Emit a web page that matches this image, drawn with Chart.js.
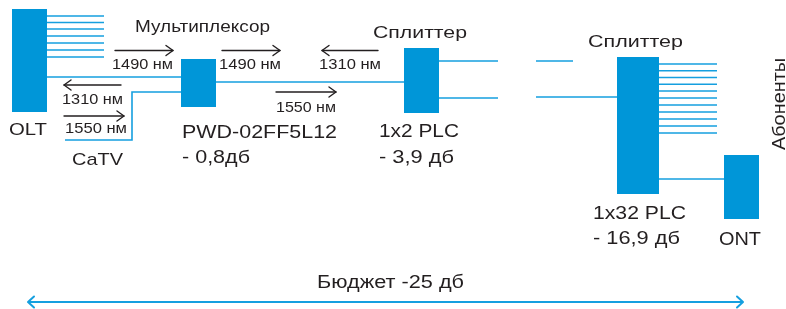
<!DOCTYPE html>
<html><head><meta charset="utf-8">
<script src="https://cdn.jsdelivr.net/npm/chart.js@4/dist/chart.umd.min.js"></script>
<style>html,body{margin:0;padding:0;background:#fff;}#wrap{width:786px;height:309px;}</style>
</head><body><div id="wrap"><canvas id="c" width="786" height="309"></canvas></div>
<script>
// Blocks: [name, x1, y1, x2, y2]
const boxes = [
  ['OLT', 12, 9, 47, 112],
  ['PWD', 181, 59, 216, 107],
  ['1x2', 404, 48, 439, 113],
  ['1x32', 617, 57, 659, 194],
  ['ONT', 724, 155, 759, 219]
];
// Fiber polylines
const fibers = [
  [[47,77],[181,77]],
  [[65,140],[132,140],[132,92],[181,92]],
  [[216,82],[404,82]],
  [[439,61],[498,61]],
  [[439,98],[498,98]],
  [[536,61],[573,61]],
  [[536,97],[617,97]],
  [[659,179],[724,179]]
];
const oltFanY = [16, 22.5, 29, 36, 43, 50, 57];
const oltFanX = [47, 104];
const splitFanY = [64, 70.8, 77.5, 84.3, 91, 98, 105, 112, 119, 126, 133];
const splitFanX = [659, 717];
// Wavelength arrows: [x1, x2, y, direction]
const waveArrows = [
  [115, 173, 50.5, 1],
  [64, 121, 85, -1],
  [64, 124, 116, 1],
  [222, 280, 50.5, 1],
  [322, 378, 50.5, -1],
  [276, 336, 92, 1]
];
// Labels: [text, left, right, centerY, fontSize]
const labels = [
  ['Мультиплексор', 135, 270, 25.5, 17],
  ['1490 нм', 112, 173, 64, 14],
  ['1310 нм', 62, 123, 99, 14],
  ['1550 нм', 65, 127, 128, 14],
  ['1490 нм', 219, 281, 64, 14],
  ['1310 нм', 319, 381, 64, 14],
  ['1550 нм', 276, 336, 107, 14],
  ['OLT', 9, 47, 129, 17],
  ['CaTV', 72, 123, 159, 17],
  ['Сплиттер', 373, 467, 32, 17],
  ['PWD-02FF5L12', 182, 337, 132, 17.5],
  ['- 0,8дб', 182, 250, 157, 17.5],
  ['1x2 PLC', 379, 459, 131, 17.5],
  ['- 3,9 дб', 379, 454, 157, 17.5],
  ['Сплиттер', 588, 683, 41, 17],
  ['1x32 PLC', 593, 686, 213, 17.5],
  ['- 16,9 дб', 593, 680, 238, 17.5],
  ['ONT', 719, 761, 239, 17.5],
  ['Бюджет -25 дб', 317, 464, 282, 18]
];
// Rotated label: [text, bottom, top, centerX, fontSize]
const vLabels = [['Абоненты', 150, 58, 779, 17.5]];
// Budget arrow: [x1, x2, y]
const budget = [28, 743, 302];

const BLUE = '#0096d8';
const FIBER = '#159fdf';
const TEXT = '#231f20';
const FONT = '"Liberation Sans", Arial, sans-serif';

const datasets = [];
function addLine(pts){
  datasets.push({data: pts.map(p=>({x:p[0], y:p[1]})), showLine:true, borderColor:FIBER, borderWidth:1.6, pointRadius:0, fill:false, tension:0});
}
fibers.forEach(addLine);
oltFanY.forEach(y=>addLine([[oltFanX[0],y],[oltFanX[1],y]]));
splitFanY.forEach(y=>addLine([[splitFanX[0],y],[splitFanX[1],y]]));
addLine([[budget[0],budget[2]],[budget[1],budget[2]]]);
datasets[datasets.length-1].borderWidth = 2;

const drawPlugin = {
  id: 'diagram',
  beforeDatasetsDraw(chart){
    const {ctx, scales:{x, y}} = chart;
    ctx.save();
    ctx.fillStyle = BLUE;
    boxes.forEach(b=>{
      const px1 = x.getPixelForValue(b[1]), py1 = y.getPixelForValue(b[2]);
      const px2 = x.getPixelForValue(b[3]), py2 = y.getPixelForValue(b[4]);
      ctx.fillRect(px1, py1, px2-px1, py2-py1);
    });
    ctx.restore();
  },
  afterDatasetsDraw(chart){
    const {ctx, scales:{x, y}} = chart;
    ctx.save();
    // wave arrows
    ctx.strokeStyle = TEXT; ctx.lineWidth = 1.4; ctx.lineCap='round'; ctx.lineJoin='round';
    waveArrows.forEach(a=>{
      const x1 = x.getPixelForValue(a[0]), x2 = x.getPixelForValue(a[1]), py = y.getPixelForValue(a[2]);
      ctx.beginPath(); ctx.moveTo(x1, py); ctx.lineTo(x2, py); ctx.stroke();
      const tip = a[3] > 0 ? x2 : x1, d = a[3] > 0 ? -1 : 1;
      ctx.beginPath(); ctx.moveTo(tip + d*7, py-5); ctx.lineTo(tip, py); ctx.lineTo(tip + d*7, py+5); ctx.stroke();
    });
    // budget arrow heads
    ctx.strokeStyle = FIBER; ctx.lineWidth = 2;
    const bx1 = x.getPixelForValue(budget[0]), bx2 = x.getPixelForValue(budget[1]), by = y.getPixelForValue(budget[2]);
    ctx.beginPath(); ctx.moveTo(bx1+6, by-5.5); ctx.lineTo(bx1, by); ctx.lineTo(bx1+6, by+5.5); ctx.stroke();
    ctx.beginPath(); ctx.moveTo(bx2-6, by-5.5); ctx.lineTo(bx2, by); ctx.lineTo(bx2-6, by+5.5); ctx.stroke();
    // labels
    ctx.fillStyle = TEXT; ctx.textBaseline = 'alphabetic'; ctx.textAlign = 'left';
    labels.forEach(l=>{
      ctx.font = l[4] + 'px ' + FONT;
      const px1 = x.getPixelForValue(l[1]), px2 = x.getPixelForValue(l[2]), pyc = y.getPixelForValue(l[3]);
      const w = ctx.measureText(l[0]).width;
      const sx = (px2 - px1) / w;
      ctx.save();
      ctx.translate(px1, pyc + l[4]*0.36);
      ctx.scale(sx, 1);
      ctx.fillText(l[0], 0, 0);
      ctx.restore();
    });
    vLabels.forEach(l=>{
      ctx.font = l[4] + 'px ' + FONT;
      const pb = y.getPixelForValue(l[1]), pt = y.getPixelForValue(l[2]), pxc = x.getPixelForValue(l[3]);
      const w = ctx.measureText(l[0]).width;
      const sx = (pb - pt) / w;
      ctx.save();
      ctx.translate(pxc + l[4]*0.36, pb);
      ctx.rotate(-Math.PI/2);
      ctx.scale(sx, 1);
      ctx.fillText(l[0], 0, 0);
      ctx.restore();
    });
    ctx.restore();
  }
};

new Chart(document.getElementById('c'), {
  type: 'scatter',
  data: {datasets},
  options: {
    responsive: false, animation: false,
    layout: {padding: 0},
    plugins: {legend: {display:false}, tooltip: {enabled:false}},
    events: [],
    scales: {
      x: {type:'linear', min:0, max:786, display:false},
      y: {type:'linear', min:0, max:309, reverse:true, display:false}
    }
  },
  plugins: [drawPlugin]
});
</script></body></html>
